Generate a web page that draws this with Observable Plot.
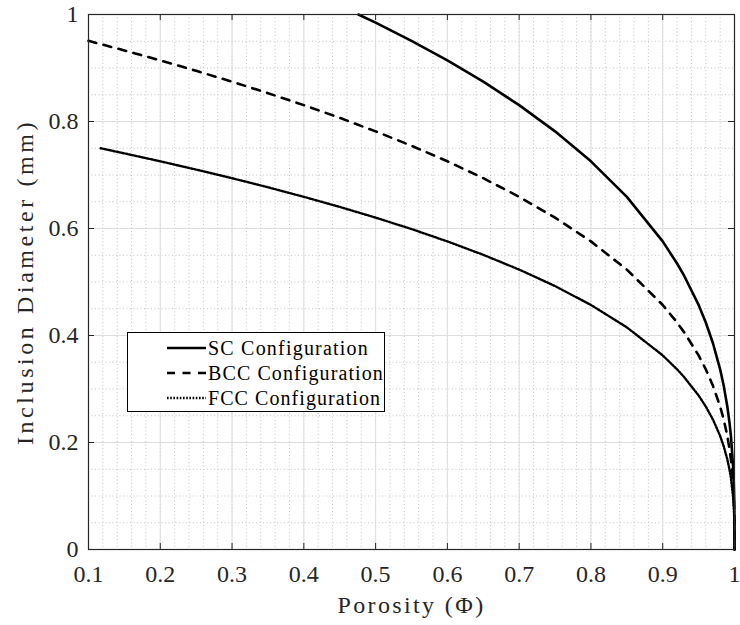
<!DOCTYPE html>
<html><head><meta charset="utf-8">
<script src="https://cdn.jsdelivr.net/npm/d3@7"></script>
<script src="https://cdn.jsdelivr.net/npm/@observablehq/plot@0.6"></script>
<style>
body{margin:0;background:#fff}
#wrap{position:relative;width:740px;height:625px}
</style>
</head><body><div id="wrap"></div>
<script>
// Series (porosity Φ -> inclusion diameter mm)
const porositySC = [0.476,0.5,0.55,0.6,0.65,0.7,0.75,0.8,0.85,0.9,0.92,0.93,0.95,0.96,0.97,0.98,0.985,0.99,0.993,0.995,0.998,0.999,0.9995,0.9998,0.9999,1.0];
const diameterSC = [1.0,0.9847,0.9508,0.9142,0.8744,0.8306,0.7816,0.7256,0.6592,0.5759,0.5346,0.5113,0.4571,0.4243,0.3855,0.3368,0.3060,0.2673,0.2373,0.2122,0.1563,0.1241,0.0985,0.0726,0.0576,0];

const porosityBCC = [0.1,0.15,0.2,0.25,0.3,0.35,0.4,0.45,0.5,0.55,0.6,0.65,0.7,0.75,0.8,0.85,0.9,0.92,0.93,0.95,0.96,0.97,0.98,0.985,0.99,0.993,0.995,0.998,0.999,0.9995,0.9998,0.9999,1.0];
const diameterBCC = [0.9508,0.9328,0.9142,0.8947,0.8744,0.8530,0.8306,0.8068,0.7816,0.7546,0.7256,0.6940,0.6592,0.6203,0.5759,0.5232,0.4571,0.4243,0.4058,0.3628,0.3368,0.3059,0.2673,0.2429,0.2122,0.1884,0.1684,0.1241,0.0985,0.0782,0.0576,0.0457,0];

const porosityFCC = [0.117,0.15,0.2,0.25,0.3,0.35,0.4,0.45,0.5,0.55,0.6,0.65,0.7,0.75,0.8,0.85,0.9,0.92,0.93,0.95,0.96,0.97,0.98,0.985,0.99,0.993,0.995,0.998,0.999,0.9995,0.9998,0.9999,1.0];
const diameterFCC = [0.75,0.7404,0.7256,0.7101,0.6940,0.6771,0.6592,0.6404,0.6203,0.5990,0.5759,0.5508,0.5232,0.4924,0.4571,0.4153,0.3628,0.3368,0.3221,0.2879,0.2673,0.2429,0.2122,0.1928,0.1684,0.1495,0.1337,0.0985,0.0782,0.0621,0.0457,0.0363,0];

const seriesNames = ["SC Configuration","BCC Configuration","FCC Configuration"];

const xTicks = [0.1,0.2,0.3,0.4,0.5,0.6,0.7,0.8,0.9,1];
const xTickLabels = ["0.1","0.2","0.3","0.4","0.5","0.6","0.7","0.8","0.9","1"];
const yTicks = [0,0.2,0.4,0.6,0.8,1];
const yTickLabels = ["0","0.2","0.4","0.6","0.8","1"];
const xMinor = d3.range(5, 51).map(i => i / 50);
const yMinor = d3.range(0, 21).map(i => i / 20);

const xLabel = "Porosity (Φ)";
const yLabel = "Inclusion Diameter (mm)";

const toRows = (xs, ys, name) => xs.map((x, i) => ({phi: x, d: ys[i], series: name}));
const sc = toRows(porositySC, diameterSC, seriesNames[0]);
const bcc = toRows(porosityBCC, diameterBCC, seriesNames[1]);
const fcc = toRows(porosityFCC, diameterFCC, seriesNames[2]);

const W = 740, H = 625, mL = 88, mR = 6, mT = 14, mB = 76;
const fw = W - mL - mR, fh = H - mT - mB;
const axisColor = "#262626";
const font = "Liberation Serif, Times New Roman, serif";
const dashBCC = "8,7.5", dashFCC = "1.6,1.6";
const widthSC = 2.6, widthBCC = 2.6, widthFCC = 2.4;

const chart = Plot.plot({
  width: W, height: H,
  marginLeft: mL, marginRight: mR, marginTop: mT, marginBottom: mB,
  style: {color: axisColor, background: "#fff"},
  x: {domain: [0.1, 1]},
  y: {domain: [0, 1]},
  marks: [
    Plot.gridX(xMinor, {stroke: "#c4c4c4", strokeOpacity: 1, strokeDasharray: "1,2.5"}),
    Plot.gridY(yMinor, {stroke: "#c4c4c4", strokeOpacity: 1, strokeDasharray: "1,2.5"}),
    Plot.gridX(xTicks, {stroke: "#dedede", strokeOpacity: 1}),
    Plot.gridY(yTicks, {stroke: "#dedede", strokeOpacity: 1}),
    Plot.line(fcc, {x: "phi", y: "d", stroke: "#000", strokeWidth: widthFCC, strokeDasharray: dashFCC}),
    Plot.line(bcc, {x: "phi", y: "d", stroke: "#000", strokeWidth: widthBCC, strokeDasharray: dashBCC}),
    Plot.line(sc, {x: "phi", y: "d", stroke: "#000", strokeWidth: widthSC}),
    Plot.frame({stroke: axisColor, strokeWidth: 1.2}),
    Plot.ruleX(xTicks, {x: d => d, insetTop: fh - 6, stroke: axisColor}),
    Plot.ruleX(xTicks, {x: d => d, insetBottom: fh - 6, stroke: axisColor}),
    Plot.ruleY(yTicks, {y: d => d, insetRight: fw - 6, stroke: axisColor}),
    Plot.ruleY(yTicks, {y: d => d, insetLeft: fw - 6, stroke: axisColor}),
    Plot.axisX(xTicks, {tickSize: 0, tickPadding: 15, fontSize: 24, label: null,
      tickFormat: d => xTickLabels[xTicks.indexOf(d)]}),
    Plot.axisY(yTicks, {tickSize: 0, tickPadding: 10, fontSize: 24, label: null,
      tickFormat: d => yTickLabels[yTicks.indexOf(d)]}),
    Plot.text([xLabel], {frameAnchor: "bottom", dy: 56, fontSize: 24, textAnchor: "middle", lineAnchor: "middle", fill: axisColor}),
    Plot.text([yLabel], {frameAnchor: "left", dx: -63, rotate: -90, fontSize: 24, textAnchor: "middle", lineAnchor: "middle", fill: axisColor})
  ]
});

// legend
const svg = d3.select(chart);
svg.attr("font-family", font);
const lg = svg.append("g").attr("font-family", font);
lg.append("rect").attr("x", 127.5).attr("y", 332.5).attr("width", 257).attr("height", 79)
  .attr("fill", "#fff").attr("stroke", "#000").attr("stroke-width", 1);
const dashes = [null, dashBCC, dashFCC];
const widths = [widthSC, widthBCC, widthFCC];
seriesNames.forEach((name, i) => {
  const y = 348 + i * 25;
  lg.append("line").attr("x1", 167).attr("x2", 206).attr("y1", y).attr("y2", y)
    .attr("stroke", "#000").attr("stroke-width", widths[i])
    .attr("stroke-dasharray", dashes[i]);
  lg.append("text").attr("x", 208).attr("y", y).attr("dy", "0.34em")
    .attr("text-anchor", "start")
    .attr("font-size", 20).attr("fill", "#000").text(name);
});

// serif face on every group and text
svg.selectAll("g").attr("font-family", font);
svg.selectAll("text").attr("font-family", font);

document.getElementById("wrap").appendChild(chart);

// widen spacing to match the reference's wider typeface
const targets = new Map([[xLabel, 148], [yLabel, 326], [seriesNames[0], 161], [seriesNames[1], 176], [seriesNames[2], 173]]);
svg.selectAll("text").each(function() {
  const t = this.textContent;
  if (!targets.has(t)) return;
  const cur = this.getComputedTextLength();
  const extra = (targets.get(t) - cur) / t.length;
  if (extra > 0) this.setAttribute("letter-spacing", extra.toFixed(2));
});
</script>
</body></html>
